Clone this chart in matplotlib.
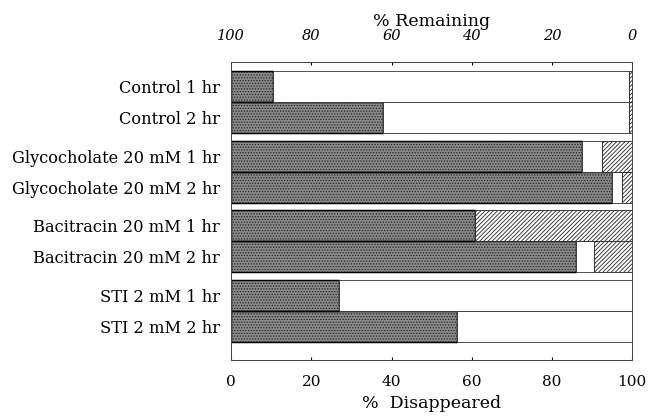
import matplotlib
matplotlib.use("Agg")
import matplotlib.pyplot as plt
import numpy as np

labels = ["Control 1 hr", "Control 2 hr",
          "Glycocholate 20 mM 1 hr", "Glycocholate 20 mM 2 hr",
          "Bacitracin 20 mM 1 hr", "Bacitracin 20 mM 2 hr",
          "STI 2 mM 1 hr", "STI 2 mM 2 hr"]
disappeared = [10.5, 37.8, 87.4, 94.9, 60.8, 86.0, 27.0, 56.3]
remaining = [0.7, 0.7, 7.5, 2.5, 39.2, 9.5, 0.0, 0.0]
group = [0, 0, 1, 1, 2, 2, 3, 3]
within = [0, 1, 0, 1, 0, 1, 0, 1]
bottom_ticks = [0, 20, 40, 60, 80, 100]
top_ticks = [100, 80, 60, 40, 20, 0]

disappeared = np.array(disappeared)
remaining = np.array(remaining)
white = 100 - disappeared - remaining
ypos = 0.8 + 2.24 * np.array(group) + np.array(within)

plt.rcParams['font.family'] = ['DejaVu Serif']
plt.rcParams['hatch.linewidth'] = 0.6

fig = plt.figure(figsize=(6.53, 4.16), dpi=100)
ax = fig.add_axes([0.354, 0.135, 0.614, 0.716])

ax.barh(ypos, disappeared, height=1.0, left=0, color='#8a8a8a',
        edgecolor='#222222', hatch='......', linewidth=0.8)
ax.barh(ypos, disappeared, height=1.0, left=0, color='none',
        edgecolor='black', linewidth=1.0)
ax.barh(ypos, white, height=1.0, left=disappeared, color='white',
        edgecolor='#333333', linewidth=0.6)
ax.barh(ypos, remaining, height=1.0, left=disappeared + white, color='white',
        edgecolor='#222222', hatch='////////', linewidth=0.6)

ax.set_xlim(0, 100)
ax.set_ylim(9.6, 0)
ax.set_yticks(ypos)
ax.set_yticklabels(labels, fontsize=11.7)
ax.tick_params(axis='y', length=0, pad=8)

ax.set_xticks(bottom_ticks)
ax.set_xticklabels([str(t) for t in bottom_ticks], fontsize=11)
ax.tick_params(axis='x', direction='in', length=2, pad=11)
ax.set_xlabel("%  Disappeared", fontsize=12.5, labelpad=4)

ax2 = ax.twiny()
ax2.set_xlim(100, 0)
ax2.set_xticks(top_ticks)
ax2.set_xticklabels([str(t) for t in top_ticks], fontsize=10.5, fontstyle='italic')
ax2.tick_params(axis='x', direction='in', length=2, pad=14)
ax2.set_xlabel("% Remaining", fontsize=12.5, labelpad=2)

for a in (ax, ax2):
    for s in a.spines.values():
        s.set_linewidth(0.7)
        s.set_color('#444444')
        s.set_linestyle((0, (1, 0.5)))

fig.savefig("out.png", dpi=100)
